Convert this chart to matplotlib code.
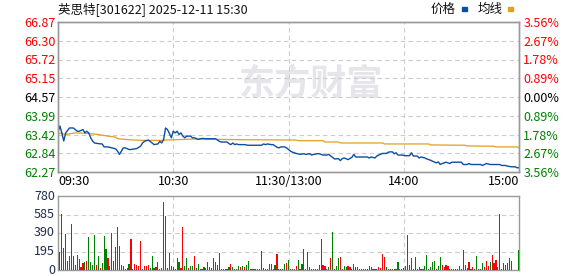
import matplotlib
matplotlib.use("Agg")
import matplotlib.pyplot as plt
from matplotlib.patches import Rectangle
from matplotlib.transforms import offset_copy

plt.rcParams['font.family'] = ['Noto Sans CJK SC', 'DejaVu Sans']

# --- data ---
title = "英思特[301622] 2025-12-11 15:30"
prev_close = 64.57
price_levels = [62.27, 62.84, 63.42, 63.99, 64.57, 65.15, 65.72, 66.30, 66.87]
pct_labels = ["3.56%", "2.67%", "1.78%", "0.89%", "0.00%", "0.89%", "1.78%", "2.67%", "3.56%"]
vol_levels = [0, 195, 390, 585, 780]
time_ticks = [0, 60, 120, 180, 240]
time_labels = ["09:30", "10:30", "11:30/13:00", "14:00", "15:00"]

# minute index (0 = 09:30, 120 = 11:30/13:00, 240 = 15:00) and price
price_min = [0, 1, 2, 3, 4, 6, 8, 10, 11, 13, 14, 15, 16, 17, 18, 19, 21, 23, 24, 26,
             28, 30, 31, 32, 33, 34, 35, 37, 38, 41, 43, 44, 45, 47, 49, 50, 52, 53, 54, 55,
             56, 57, 58, 59, 60, 61, 62, 63, 64, 65, 66, 67, 69, 70, 71, 73, 75, 77, 79, 80,
             82, 84, 85, 88, 89, 90, 91, 92, 93, 94, 97, 99, 106, 107, 108, 109, 111, 112, 114, 115,
             116, 118, 119, 121, 122, 124, 126, 128, 129, 131, 132, 133, 135, 136, 138, 140, 141, 142, 144, 146,
             147, 148, 149, 151, 153, 154, 155, 157, 159, 161, 162, 163, 165, 166, 167, 169, 171, 172, 174, 175,
             176, 177, 179, 181, 183, 184, 185, 187, 188, 189, 191, 192, 194, 195, 197, 198, 199, 200, 202, 204,
             205, 207, 210, 211, 213, 214, 215, 217, 220, 221, 222, 223, 225, 230, 231, 233, 234, 236, 238, 239,
             240]
price_val = [63.50, 63.68, 63.47, 63.22, 63.47, 63.62, 63.62, 63.52, 63.52, 63.57, 63.47, 63.52, 63.47, 63.32, 63.22, 63.16, 63.14, 63.13, 63.04, 63.04,
             63.01, 62.98, 62.91, 62.81, 62.91, 63.01, 63.01, 62.96, 62.96, 62.99, 63.06, 63.16, 63.21, 63.25, 63.16, 63.11, 63.13, 63.21, 63.16, 63.27,
             63.62, 63.57, 63.45, 63.32, 63.52, 63.47, 63.52, 63.42, 63.47, 63.37, 63.32, 63.37, 63.37, 63.32, 63.32, 63.27, 63.30, 63.29, 63.29, 63.29,
             63.29, 63.21, 63.19, 63.19, 63.14, 63.11, 63.16, 63.11, 63.13, 63.11, 63.11, 63.09, 63.09, 63.13, 63.11, 63.13, 63.11, 63.11, 63.03, 63.01,
             63.04, 63.04, 63.01, 62.91, 62.88, 62.84, 62.81, 62.83, 62.81, 62.83, 62.79, 62.81, 62.83, 62.83, 62.79, 62.79, 62.81, 62.76, 62.67, 62.68,
             62.62, 62.68, 62.70, 62.65, 62.72, 62.81, 62.73, 62.73, 62.73, 62.73, 62.70, 62.73, 62.70, 62.76, 62.79, 62.84, 62.84, 62.88, 62.89, 62.83,
             62.86, 62.79, 62.79, 62.77, 62.77, 62.86, 62.76, 62.76, 62.70, 62.73, 62.70, 62.67, 62.63, 62.60, 62.55, 62.58, 62.50, 62.53, 62.57, 62.53,
             62.57, 62.57, 62.57, 62.50, 62.50, 62.53, 62.50, 62.50, 62.50, 62.47, 62.50, 62.53, 62.50, 62.50, 62.47, 62.47, 62.45, 62.43, 62.43, 62.40,
             62.40]

avg_min = [0, 4, 9, 16, 21, 26, 30, 31, 37, 43, 54, 56, 61, 71, 96, 124, 125, 138, 139, 146,
           147, 169, 170, 193, 194, 212, 213, 227, 228, 239, 240]
avg_val = [63.47, 63.42, 63.47, 63.45, 63.42, 63.37, 63.34, 63.29, 63.26, 63.24, 63.24, 63.25, 63.26, 63.28, 63.26, 63.25, 63.23, 63.23, 63.19, 63.19,
           63.16, 63.16, 63.13, 63.13, 63.10, 63.09, 63.07, 63.06, 63.04, 63.04, 63.01]

# volume per minute, minutes 1..240; R = up (red), G = down (green)
volume = [189, 595, 228, 378, 95, 147, 483, 147, 52, 157,
          115, 35, 77, 84, 95, 346, 84, 52, 367, 52,
          147, 24, 77, 357, 224, 130, 42, 388, 95, 241,
          451, 252, 52, 42, 14, 24, 66, 325, 14, 63,
          52, 42, 304, 14, 42, 42, 52, 21, 147, 21,
          35, 84, 14, 24, 714, 567, 21, 178, 42, 35,
          14, 126, 84, 21, 451, 42, 126, 21, 42, 42,
          147, 21, 63, 14, 14, 31, 21, 84, 31,
          24, 126, 84, 52, 178, 14, 10, 10, 10, 35,
          63, 35, 10, 10, 42, 31, 42, 31, 52, 95,
          10, 10, 10, 10, 10, 10, 200, 21, 10, 10,
          63, 63, 10, 52, 168, 10, 10, 10, 63, 73,
          105, 10, 10, 10, 42, 105, 10, 63, 220, 10,
          189, 31, 10, 10, 10, 10, 52, 325, 52, 42,
          10, 35, 126, 399, 10, 42, 126, 136, 10, 42,
          35, 42, 31, 10, 63, 31, 31, 10, 10,
          10, 10,
          10, 42, 31, 10, 10, 10, 31, 21, 168, 136,
          31, 10, 10, 10, 10, 10, 84, 10, 10, 21,
          42, 367, 52, 126, 10, 136, 10, 31, 10, 10,
          42, 157, 10, 31, 84, 95, 10, 42, 136, 52,
          31, 52, 42, 10, 10, 10, 10, 10, 42, 10,
          210, 52, 21, 84, 10, 31, 10, 147, 10, 10,
          73, 31, 95, 42, 84, 157, 73, 105, 31, 588,
          10, 73, 52, 73, 126, 95, 0, 0, 0, 210]
vol_dir = ("GGGRRRRGGG" "RRRGRGGGGR" "GRGGGRGGRG" "GRRRGGGRGR" "RRRGRRRGGG"
           "RRGGRRGGGR" "GRGRRGGRGG" "RGGRRGRGG"
           "GRGGGGRRGG" "RGGRGRGRGG" "RRRRRRRGRG" "RGRGRRRRGR" "GRGGRGRGRG"
           "GRRRRGRGRR" "RGRGRGGRRG" "GRRRGGRGG"
           "RR"
           "RGRRRRRRRR" "GRRGRGGRRR" "RRGRGGRGRG" "GGRGGGRGGR" "RRRGRRGRRG"
           "GRRRGRRGRR" "GRRRGRRRRG" "GRGRGGGGGG")

RED = '#ff0000'
GREEN = '#008000'
FRAME = '#999999'
GRID = '#cccccc'

W, H = 578, 276
fig = plt.figure(figsize=(W / 100, H / 100), dpi=100)
fig.patch.set_facecolor('white')

def box(l, t, r, b):
    return [l / W, 1 - b / H, (r - l) / W, (b - t) / H]

ax = fig.add_axes(box(58, 22, 519, 172))
axv = fig.add_axes(box(58, 196, 519, 270))

# watermark
ax.text(0.55, 0.59, "东方财富", transform=ax.transAxes, ha='center', va='center',
        fontsize=26, fontweight='bold', color='#e6e6ea', zorder=0)

ax.plot(avg_min, avg_val, color='#e0a020', lw=0.9, zorder=3)
ax.plot(price_min, price_val, color='#0b4ea2', lw=1.0, zorder=4)

ax.set_xlim(0, 240)
ax.set_ylim(price_levels[0], price_levels[-1])
for y in price_levels[1:-1]:
    ax.axhline(y, color=GRID, lw=0.8, ls=(0, (4, 3)), zorder=1)
for x in time_ticks[1:-1]:
    ax.axvline(x, color=GRID, lw=0.8, ls=(0, (4, 3)), zorder=1)

ax.set_yticks(price_levels)
ax.set_yticklabels(["%.2f" % v for v in price_levels], fontsize=9)
for lab, v in zip(ax.get_yticklabels(), price_levels):
    lab.set_color(RED if v > prev_close + 0.001 else (GREEN if v < prev_close - 0.001 else 'black'))
ax.tick_params(axis='y', length=0, pad=2)

ax.set_xticks(time_ticks)
ax.set_xticklabels(time_labels, fontsize=9)
ax.tick_params(axis='x', length=0, pad=2)
xl = ax.get_xticklabels()
xl[0].set_horizontalalignment('left')
xl[-1].set_horizontalalignment('right')

ax2 = ax.twinx()
ax2.set_ylim(ax.get_ylim())
ax2.set_yticks(price_levels)
ax2.set_yticklabels(pct_labels[::-1], fontsize=9)
for lab, v in zip(ax2.get_yticklabels(), price_levels):
    lab.set_color(RED if v > prev_close + 0.001 else (GREEN if v < prev_close - 0.001 else 'black'))
ax2.tick_params(axis='y', length=0, pad=3)

for a in (ax, ax2, axv):
    for s in a.spines.values():
        s.set_color(FRAME)
        s.set_linewidth(1.0)

# volume bars
minutes = list(range(1, len(volume) + 1))
colors = [RED if d == 'R' else GREEN for d in vol_dir]
axv.bar(minutes, volume, width=0.6, color=colors, linewidth=0, zorder=3)
axv.set_xlim(0, 240)
axv.set_ylim(0, 780)
for y in vol_levels[1:-1]:
    axv.axhline(y, color=GRID, lw=0.8, ls=(0, (4, 3)), zorder=1)
for x in time_ticks[1:-1]:
    axv.axvline(x, color=GRID, lw=0.8, ls=(0, (4, 3)), zorder=1)
axv.set_xticks([])
axv.set_yticks([])

# volume labels as plain text so the bottom "0" stays inside the picture
lab_tr = offset_copy(axv.get_yaxis_transform(), fig=fig, x=-3, y=0, units='dots')
low_tr = offset_copy(axv.get_yaxis_transform(), fig=fig, x=-3, y=-3.5, units='dots')
for v in vol_levels:
    if v == 0:
        axv.text(0, v, str(v), transform=low_tr, ha='right', va='baseline',
                 fontsize=9, color='#1f2d4d')
    else:
        axv.text(0, v, str(v), transform=lab_tr, ha='right', va='center',
                 fontsize=9, color='#1f2d4d')

# title and legend
fig.text(58 / W, 1 - 9 / H, title, fontsize=9, va='center', ha='left', color='#111111')
fig.text(431 / W, 1 - 9 / H, "价格", fontsize=9, va='center', ha='left', color='#111111')
fig.patches.append(Rectangle((462 / W, 1 - 10.5 / H), 5 / W, 3 / H,
                             transform=fig.transFigure, color='#0b4ea2'))
fig.text(478 / W, 1 - 9 / H, "均线", fontsize=9, va='center', ha='left', color='#111111')
fig.patches.append(Rectangle((508 / W, 1 - 10.5 / H), 5 / W, 3 / H,
                             transform=fig.transFigure, color='#e0a020'))

fig.savefig("out.png", dpi=100)
